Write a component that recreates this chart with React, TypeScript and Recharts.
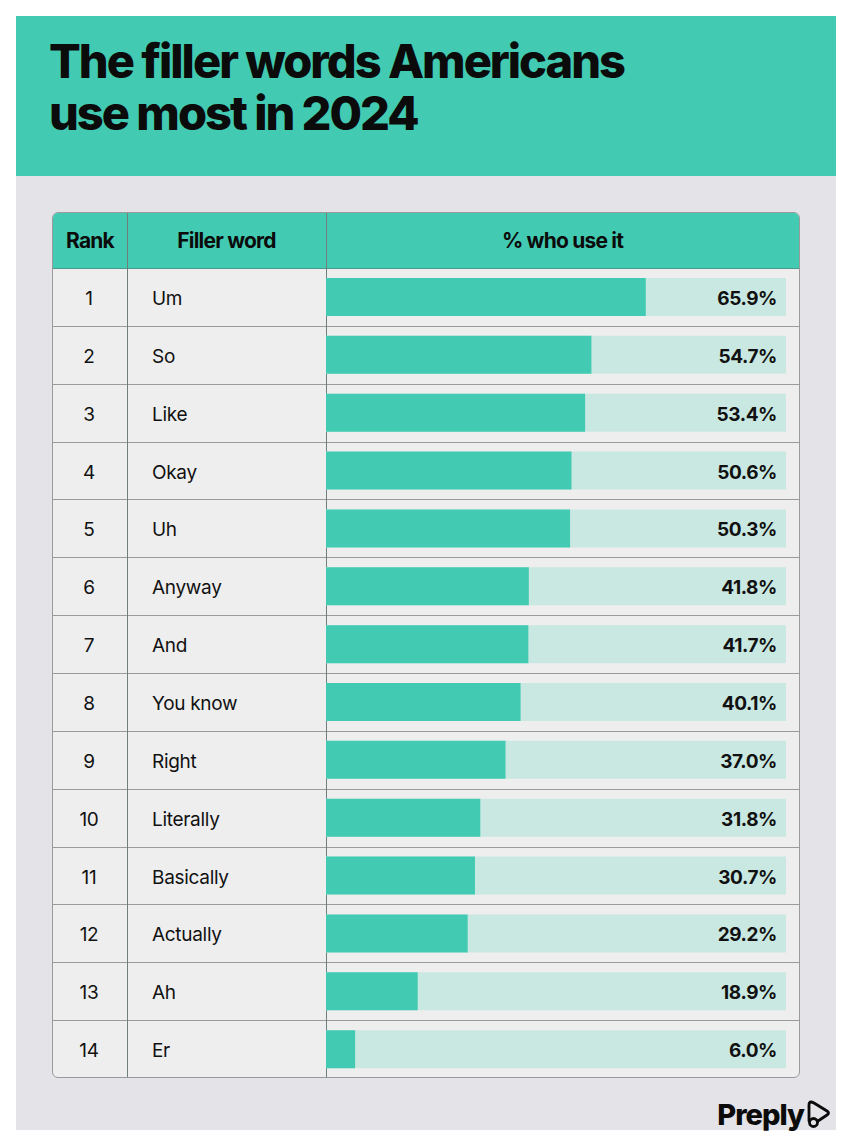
import { BarChart, Bar, XAxis, YAxis, LabelList } from "recharts"

const ranks = ["1", "2", "3", "4", "5", "6", "7", "8", "9", "10", "11", "12", "13", "14"]
const words = ["Um", "So", "Like", "Okay", "Uh", "Anyway", "And", "You know", "Right", "Literally", "Basically", "Actually", "Ah", "Er"]
const shares = [65.9, 54.7, 53.4, 50.6, 50.3, 41.8, 41.7, 40.1, 37.0, 31.8, 30.7, 29.2, 18.9, 6.0]

const data = words.map((w, i) => ({ word: w, rank: ranks[i], share: shares[i] }))

const TEAL = "#42cbb2"
const TRACK = "#c9e8e1"
const ROW_BG = "#eeeeee"
const LINE = "#9a9a9a"
const FONT = "Inter, 'Noto Sans', sans-serif"

const TABLE_W = 748
const BODY_H = 810
const COL1 = 74
const COL2 = 273
const RIGHT = 14

function WordTick(props: any) {
  const { y, payload, index } = props
  return (
    <g>
      <text x={COL1 / 2} y={y} dy={8} textAnchor="middle" fontSize={19} fill="#111" fontFamily={FONT} letterSpacing={-0.3}>
        {ranks[index]}
      </text>
      <text x={100} y={y} dy={8} textAnchor="start" fontSize={19} fill="#111" fontFamily={FONT} letterSpacing={-0.3}>
        {payload.value}
      </text>
    </g>
  )
}

function ShareLabel(props: any) {
  const { y, height, value } = props
  return (
    <text
      x={TABLE_W - RIGHT - 9}
      y={y + height / 2}
      dy={8}
      textAnchor="end"
      fontSize={19}
      fontWeight={700}
      fill="#111"
      fontFamily={FONT}
      letterSpacing={-0.4}
    >
      {Number(value).toFixed(1)}%
    </text>
  )
}

export default function App() {
  return (
    <div style={{ position: "absolute", left: 0, top: 0, width: 852, height: 1147, background: "#fff", fontFamily: FONT }}>
      <div style={{ position: "absolute", left: 16, top: 16, width: 820, height: 1114, background: "#e3e3e8" }}>
        <div style={{ position: "absolute", left: 0, top: 0, width: 820, height: 160, background: TEAL }}>
          <div
            style={{
              position: "absolute",
              left: 33,
              top: 19,
              fontSize: 47,
              lineHeight: "52px",
              fontWeight: 800,
              letterSpacing: -2,
              color: "#0b0b0b",
            }}
          >
            The filler words Americans
            <br />
            use most in 2024
          </div>
        </div>

        {/* table frame */}
        <div
          style={{
            position: "absolute",
            left: 36,
            top: 196,
            width: TABLE_W - 2,
            height: 866 - 2,
            border: `1px solid ${LINE}`,
            borderRadius: 6,
            overflow: "hidden",
            background: ROW_BG,
          }}
        >
          <div style={{ position: "absolute", left: 0, top: 0, width: "100%", height: 55, background: TEAL, borderBottom: `1px solid #4a9c8c` }}>
            {[
              ["Rank", 0, COL1],
              ["Filler word", COL1, COL2],
              ["% who use it", COL2, TABLE_W - 2],
            ].map(([t, a, b]) => (
              <div
                key={t as string}
                style={{
                  position: "absolute",
                  left: a as number,
                  width: (b as number) - (a as number),
                  top: 0,
                  height: 55,
                  lineHeight: "56px",
                  textAlign: "center",
                  fontSize: 21,
                  fontWeight: 700,
                  letterSpacing: -0.8,
                  color: "#0b0b0b",
                }}
              >
                {t}
              </div>
            ))}
          </div>
          {ranks.slice(1).map((r, i) => (
            <div
              key={r}
              style={{ position: "absolute", left: 0, width: "100%", top: 55 + ((i + 1) * BODY_H) / 14, height: 1, background: LINE }}
            />
          ))}
          <div style={{ position: "absolute", left: COL1, top: 0, width: 1, height: "100%", background: "#6f7f7b" }} />
          <div style={{ position: "absolute", left: COL2, top: 0, width: 1, height: "100%", background: "#6f7f7b" }} />

          <div style={{ position: "absolute", left: -1, top: 55 }}>
            <BarChart
              width={TABLE_W}
              height={BODY_H}
              data={data}
              layout="vertical"
              margin={{ top: 0, right: RIGHT, bottom: 0, left: 0 }}
            >
              <XAxis type="number" hide domain={[0, 94.8]} />
              <YAxis
                type="category"
                dataKey="word"
                width={COL2 + 1}
                axisLine={false}
                tickLine={false}
                tick={<WordTick />}
                interval={0}
              />
              <Bar dataKey="share" fill={TEAL} barSize={38} background={{ fill: TRACK }} isAnimationActive={false}>
                <LabelList dataKey="share" content={<ShareLabel />} />
              </Bar>
            </BarChart>
          </div>
        </div>

        {/* logo */}
        <div style={{ position: "absolute", right: 4, top: 1080, display: "flex", alignItems: "center", height: 36 }}>
          <span style={{ fontSize: 29, fontWeight: 800, letterSpacing: -1, color: "#0b0b0b" }}>Preply</span>
          <svg width={26} height={30} viewBox="0 0 26 30" style={{ marginLeft: 2 }}>
            <path
              d="M5 3 Q3 3 3 6 L3 22 M5 3 Q6 3 8 4 L21 12 Q24 14 21 16 L12 22"
              fill="none"
              stroke="#0b0b0b"
              strokeWidth={2.8}
              strokeLinecap="round"
              strokeLinejoin="round"
            />
            <circle cx={7.5} cy={23.5} r={4} fill="none" stroke="#0b0b0b" strokeWidth={2.8} />
          </svg>
        </div>
      </div>
    </div>
  )
}
